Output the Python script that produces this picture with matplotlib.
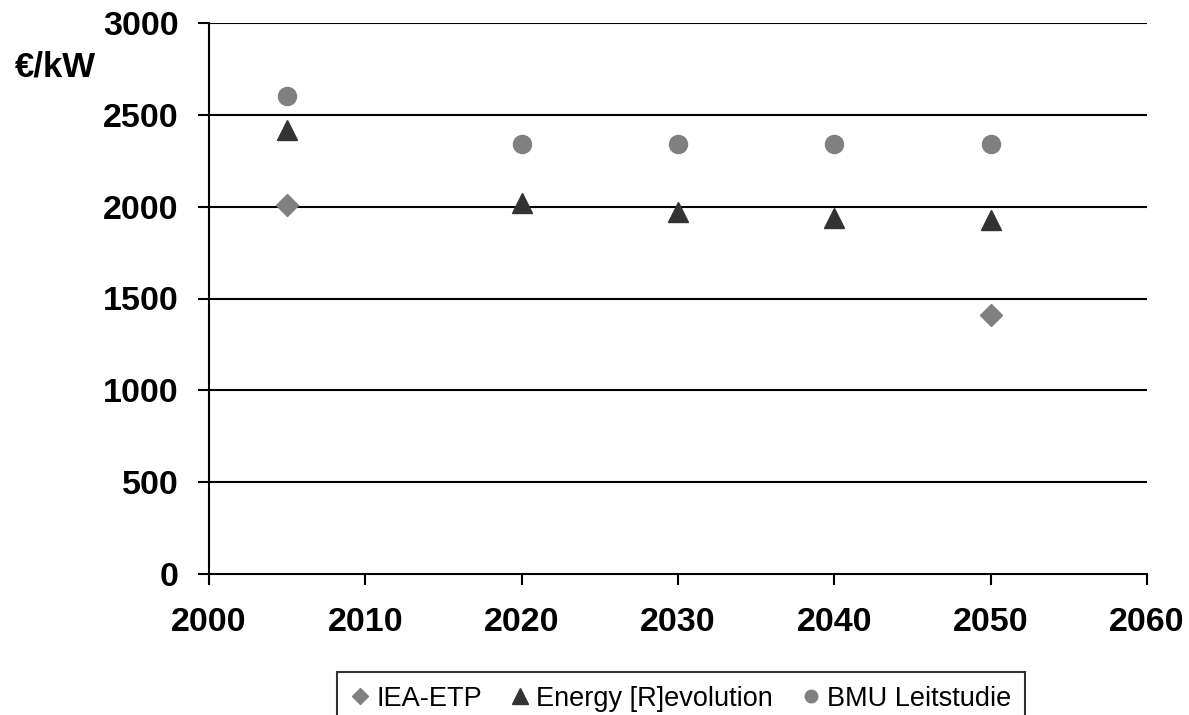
import matplotlib
matplotlib.use("Agg")
import matplotlib.pyplot as plt
from matplotlib.lines import Line2D

years_iea = [2005, 2050]
iea_etp = [2010, 1410]

years_er = [2005, 2020, 2030, 2040, 2050]
energy_rev = [2420, 2020, 1970, 1940, 1925]

years_bmu = [2005, 2020, 2030, 2040, 2050]
bmu = [2600, 2340, 2340, 2340, 2340]

x_ticks = [2000, 2010, 2020, 2030, 2040, 2050, 2060]
y_ticks = [0, 500, 1000, 1500, 2000, 2500, 3000]
unit_label = "€/kW"
series_names = ["IEA-ETP", "Energy [R]evolution", "BMU Leitstudie"]

plt.rcParams['font.family'] = ['Liberation Sans', 'DejaVu Sans']

fig = plt.figure(figsize=(11.89, 7.15), dpi=100)
ax = fig.add_axes([209/1189, 1-574/715, (1147-209)/1189, (574-23)/715])

gray = "#808080"
dark = "#333333"

ax.plot(years_iea, iea_etp, linestyle="none", marker="D", markersize=11,
        color=gray, markeredgecolor=gray, zorder=5, clip_on=False)
ax.plot(years_er, energy_rev, linestyle="none", marker="^", markersize=15,
        color=dark, markeredgecolor=dark, zorder=5, clip_on=False)
ax.plot(years_bmu, bmu, linestyle="none", marker="o", markersize=13,
        color=gray, markeredgecolor=gray, zorder=5, clip_on=False)

ax.set_xlim(2000, 2060)
ax.set_ylim(0, 3000)
ax.set_xticks(x_ticks)
ax.set_yticks(y_ticks)
ax.set_xticklabels([str(v) for v in x_ticks], fontsize=24.5, fontweight="bold")
ax.set_yticklabels([str(v) for v in y_ticks], fontsize=24.5, fontweight="bold")

for v in y_ticks[1:]:
    ax.axhline(v, color="black", linewidth=1.5, zorder=1)

for s in ["top", "right"]:
    ax.spines[s].set_visible(False)
for s in ["left", "bottom"]:
    ax.spines[s].set_linewidth(1.5)
    ax.spines[s].set_color("black")

ax.tick_params(axis="both", direction="out", length=8, width=1.5, color="black")
ax.tick_params(axis="y", pad=14)
ax.tick_params(axis="x", pad=16)

fig.text(15/1189, 1-67/715, unit_label, fontsize=25, fontweight="bold",
         ha="left", va="center")

handles = [
    Line2D([], [], linestyle="none", marker="D", markersize=8, color=gray),
    Line2D([], [], linestyle="none", marker="^", markersize=12, color=dark),
    Line2D([], [], linestyle="none", marker="o", markersize=9, color=gray),
]
leg = fig.legend(handles, series_names, loc="upper left",
                 bbox_to_anchor=(337/1189, 1-672/715), ncol=3,
                 fontsize=19.5, frameon=True, fancybox=False,
                 handlelength=0.7, handletextpad=0.25, columnspacing=1.05,
                 borderpad=0.5, borderaxespad=0)
leg.get_frame().set_edgecolor("black")
leg.get_frame().set_linewidth(1.5)

fig.savefig("out.png", dpi=100, facecolor="white")
